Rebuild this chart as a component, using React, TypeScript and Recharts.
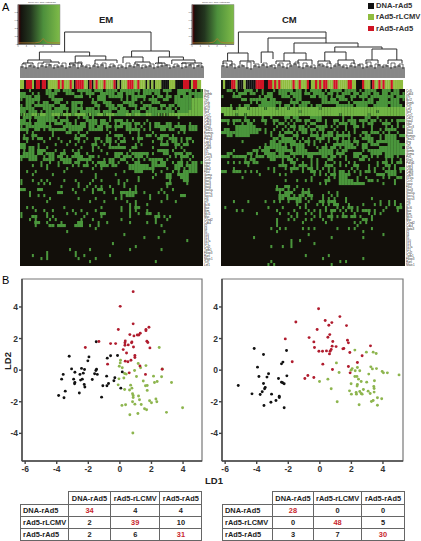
import React from "react";
import { ScatterChart, Scatter, XAxis, YAxis, ReferenceArea, LineChart, Line } from "recharts";

const SANS = '"Liberation Sans", Arial, sans-serif';

const groups = ["DNA-rAd5", "rAd5-rLCMV", "rAd5-rAd5"];
const emMatrix = [[34, 4, 4], [2, 39, 10], [2, 6, 31]];
const cmMatrix = [[28, 0, 0], [0, 48, 5], [3, 7, 30]];

const emBlack = [[-3.21,.88],[-1.96,.84],[-2.03,.59],[-.8,.76],[-.59,.91],[-.15,.93],[-1.5,1.8],[-3.06,.08],[-2.43,.11],[-2.24,.04],[-1.48,.06],[-1.52,-.02],[-2.85,-.13],[-2.32,-.19],[-2.53,-.27],[-3.59,-.27],[-3.69,-.57],[-2.93,-.57],[-2.85,-.78],[-2.87,-.86],[-2.38,-.57],[-2.49,-.63],[-2.26,-.91],[-2.22,-1.07],[-1.6,-.23],[-1.43,-.27],[-1.75,-.59],[-.84,-.38],[-.32,-.48],[-.38,-.67],[-.72,-.84],[-.82,-.99],[-1.08,-.99],[.15,-.11],[.06,-1.14],[-3.46,-1.33],[-3.88,-1.6],[-3.54,-1.75],[-2.57,-1.45],[-1.16,-1.71]];
const emGreen = [[2.49,1.43],[.04,.63],[.02,.46],[1.16,.42],[-.04,.25],[.15,.15],[1.65,.29],[1.31,.15],[.93,-.02],[2.68,.08],[.3,-.21],[.4,-.25],[1.05,-.4],[-.06,-.55],[.25,-.5],[2.13,-.38],[2.64,-.42],[1.48,-.69],[2.19,-.78],[2.36,-.72],[3.27,-.78],[-.11,-.93],[.68,-.95],[1.62,-.99],[1.73,-.97],[.3,-1.22],[.61,-1.26],[.76,-1.14],[1.73,-1.28],[.8,-1.49],[.84,-1.6],[.84,-1.73],[1.18,-1.64],[1.24,-1.87],[1.88,-1.94],[2,-2.06],[2.28,-1.83],[2.34,-2],[.8,-2],[.95,-2.15],[1.35,-2.17],[.13,-2.23],[.36,-2.19],[1.56,-2.44],[1.69,-2.51],[3.97,-2.38],[2.95,-2.67],[.63,-2.82],[1.14,-2.74],[.82,-3.98]];
const emRed = [[.84,4.97],[.02,4.04],[.84,2.93],[1.84,2.72],[1.65,2.57],[1.65,2.5],[-.1,2.57],[.63,2.25],[.89,2.17],[1.1,2.23],[1.2,2.23],[1.29,2.34],[-1.33,1.81],[-.59,1.68],[-.27,1.68],[.34,1.85],[.32,1.73],[.32,1.58],[.53,1.6],[.76,1.79],[.74,1.73],[.86,1.47],[1.71,1.83],[1.77,1.75],[1.9,1.41],[-2.19,1.43],[.21,1.3],[.42,1.09],[.95,.93],[.95,.8],[.7,.63],[.34,.57],[.51,.53],[-.78,.38],[1.27,.27],[1.62,-.27],[.59,-.17],[2.68,.06]];

const cmBlack = [[-4.16,1.37],[-3.57,.99],[-2.11,1.24],[-2.34,.51],[-2.43,.4],[-3.95,.19],[-3.25,-.23],[-3.86,-.4],[-3.35,-.44],[-2.09,-.36],[-2.62,-.53],[-2.43,-.76],[-2.36,-.8],[-2.26,-.86],[-5.17,-.97],[-3.57,-.84],[-3.46,-1.1],[-3.5,-1.18],[-3.65,-1.37],[-4.3,-1.5],[-3.78,-1.54],[-3.06,-1.52],[-2.57,-1.65],[-2.57,-1.73],[-2.78,-1.92],[-3.1,-2.03],[-3.54,-2.24],[-2.26,-2.38]];
const cmGreen = [[2.22,1.27],[2.95,1.14],[3.38,1.14],[3.57,1.05],[1.05,.46],[1.22,-.15],[2.38,.17],[3.23,.21],[2.05,.1],[1.98,0],[2.24,-.04],[2.53,-.04],[3.33,.08],[3.59,.1],[3.95,-.08],[4.03,-.17],[4.28,-.17],[5.02,-.3],[3.1,-.25],[2.22,-.4],[2.35,-.4],[2.45,-.57],[-.02,-.72],[.51,-.57],[.72,-1.18],[2.62,-.72],[2.97,-.76],[3.46,-.67],[1.98,-.86],[2.38,-.91],[2.36,-1.01],[3.42,-1.03],[3.44,-1.16],[2.76,-1.22],[3.06,-1.33],[3.19,-1.48],[3.44,-1.39],[1.88,-1.31],[2,-1.52],[2.32,-1.52],[2.3,-1.41],[2.53,-1.35],[2.62,-1.48],[2.68,-1.52],[3.65,-1.75],[3.92,-1.81],[3.38,-1.92],[3.27,-1.98],[1.1,-2],[2.49,-2.19],[3.65,-2.22]];
const cmRed = [[-.08,3.89],[1.27,3.39],[.34,3.14],[.76,3.01],[.57,2.84],[1.69,2.82],[-1.52,3.05],[-.17,2.57],[.63,2.25],[.51,2.08],[-.68,2.06],[-2.19,1.98],[-.38,1.79],[.82,1.81],[1.75,1.89],[1.81,1.73],[3.21,1.54],[-.34,1.43],[.78,1.52],[1.03,1.49],[1.46,1.35],[1.52,1.37],[.72,1.31],[-.06,1.2],[.17,1.2],[.42,1.22],[.65,1.2],[.61,1.03],[1.9,1.12],[2.68,.91],[-1.75,.53],[.19,.38],[2.38,.48],[1.81,.23],[.8,.04],[1.92,-.17],[-.76,-.34],[-.38,-.46],[-.95,-.53]];

const emBar = ["ggkrrrgkrrkrrkgggggrgrgggrgkrrrrggkrkgrgggrgg" + "ggrkgkgggrrrggrgggkgkgkgggkkkkgggkkkkrrrkgrrgg"];
const cmBar = ["kgkkkrrgkkkgkkkkkrrrrkkrrgrgrggggggrggrgggrkg" + "grgrgrrgggrrgggggrrggkkkrgggkrggrgrgggrggggg"];

const emHeat = [
"...a.....aa.aa.aaa..aaaaa.aaa.aaaa.aaaaaaa.aaaaaa.aaa..aaaaa.a.a",
"aa..a.a..aaaa...aaa..a.aaa..aaaaa.aa.aaa.a.aaa.aa..a...aaa.aaaaa",
"aaaa.aa...aa.......aaa..a..aaa.aaaaa.a.aaaaa..a.aa.aa.aa.aaa.aaa",
"a.aaaaa....aaaa..........a.aaa.....a.a.aa..a.aaa..aa..aaaaaabbbb",
"..aaa.a.aa..aa..a.aaaa...aa..aaa....aaaa..a...aaa.....aaaaaabbbb",
"a.aa.aaaaaaa..aa..aa.a....aa..aaa.aa..aaa..aaa...aa.aa.aaaaabbbb",
"aaaaa...aaa.aaaaa.aaaa.aaa.a...aaa.aa...a.aa.aaa.a.aa.a.aaaabbbb",
"aa.aaa.a.aaaaaa.a.aa.aaaaaaa.aaa..aaaa.aaa..aaaaaaaaaa.aaaabbbbb",
"abaabbabbaabbbabbbabbbbabaabbabbbaaaabbabbaabbaabababbbbbbbbbbbb",
".aaa.aaaaaaa.a..a...a.aa.a.....a.......................a........",
"aa.a..aaaaaaa.aaa..a...aaaa.aa.a.aaa.a.a....a...................",
"aaaa.aaaa.a.aaa.aa.a.aa.aaa.aaa..a.aaaa.aa.a.a.aa..aa..a...a....",
"a.aaaaaaaaa....aaaaaaaa.aa.aa.aa.aaa.aa.a.a..a.aaaaaa.aaaa.aaa..",
"aaa..aa.a.aaaaaa.aaaaa..aaaaa.a..a...aaaaa.a.a...aa.aa..aa.aaa..",
"..a.a......a....aa..a..a.......a......a..a....a........a.a......",
".a..aa.....a.......a.aa.......a..aaa.....a..aa.a.aaa.a..........",
".aa.a.aa..a..a.....aa..a..aa..aa..a.a..a.aa.....aa..aaa.a.aa....",
"..a.....a.....a..a..a.a...a.a.aa.a.aa....a....a..a.a.aa.a.a.a...",
"aa....a.....a...a..a.....aa..a.a..a.....a.a......aaa..aa.aa.....",
"aa.aa.a..a...........a...a.a...aaaaaa..aa.....a.......a.a.......",
".a.aa.aaa...a..a..a.a....a..a.........a.........aaaa.a...a......",
".aaaa.aa.aaa..aa...aa..a......a..aaa.a.aaaaaa.a...aa..aaa.aa....",
"aaaaaa..a.aa.aa.a.aaaa..aa.a.....aa.aaa.aaa.a.......a.a.aaa.a...",
"a..aaa..aaaa..aaaa..aaaaa....a.aa..aa..a.a.a.aaaaa.a....a..a....",
".......a..a..a.aaa.aa..a.a.aaa.aa.a..a..aa....aa.aa..a.aa.a.aa.a",
"....a..a.a...a....a.a.aa..a.aaa.aa....aaaaaaa.aaaaa...aaa.aaaa..",
".........a......a........a..a.........aaaaaaaaa....a..aa.a.aaa..",
"..a..a.........a.....a..............a...aaa...a..a...a.a.aaaaa..",
"....a......a..............a......a.............a...aa..aaaa.....",
"..........................a..............a....a....aa...aaa.....",
"a...a..a.a.....a...a.....a..a.....a..a...a..........a....aa.....",
"a.....a.a.a.........a...a.........a.a..............aa.....a.....",
"..............a.....a..a..a.a..a....a...a..........a............",
"aa....aa..........a...a..a.aa...a.....a.a........a...a..........",
"...a.........aa....a.....a...a..a..aaaaaa..a....a.a.............",
"...a..a.a..........................a.aaa.....a.....a....aa......",
"..........a.........a.....a......a.a.........a.....a............",
".........a..............a....a.......a..a........a....a.........",
"......................................a.a...a...................",
"..a.a..........a............a......a..a.aa......................",
".....a..a..a......a..a....a........a..a.a...a...................",
"a........a......a..a...a....aa........a..a..aa..a...............",
"a...aa...a.a..........a.....a.........a........aa.a.a...........",
"...a.a....a.a........a...a.........a...........a...a............",
".....aa..a....a.....aa.....a..a.......a.....a..a................",
".....a....aa.aaa...aaa..a..a.....................a..............",
"..........................a.....................................",
"................a.................................a.............",
"....................................a...........................",
"...........................................a....a...............",
"..........................................................a.....",
"................................a...............................",
"........................................a.......................",
".................a......a.............a..........a..............",
".........a.........a............................................",
"....a....a.........a..a........a................................",
".......a.a..........a.....a.....................................",
"........................a......................a.................",
"................................................................",
];

const cmHeat = [
"..aa.a..aaa.a.a...a.aaaaa.aa.a.aaaa.a.aaaa.aaaa.a.aaaa..aaa.aa..",
"....a.aaa.aa..a.aa..aaa.aaaa.aa.aaaa.aa.a.aaa.aa.aaa.aa.aa.aaa.a",
"a...aaa......a.aaa...aaa.aaa...aa.aaa.a.aaa..aa.aaa.aaaaaaaa.aaa",
".......aa.aaaaaa.aa.....a.aa.......aa.aa.aaa.a...a.aa..aaa.aaa.a",
"..........a.a.aaaaaaa...aaa.aaa....aaaaaa...a.aaaaaaa.aaaaaaaa..",
"...a..a.aa...aaaaaa.a.aa.a.aaa.a.aa.....aaaaaa.aaaa..aaaaa.aaaa.",
"bbbb.abbbabbbbbabbbabbbabbbbbbbbbbabbbbbbbbbbbbbbbbbbbbbbbbbbbbb",
"bbbbbbbbbbbbbbbbbbbbbbbbbbbabbbbbbbbbbbbbbbbbbbbbbbbbbabbbbbbbbb",
".bbbbabbabbbbbbbbbbbbbbbbbbbbbbbbbbbbbbbbabbbbbbbbbabbbbbbbbbbbb",
"........a.....a..a....aa.aa....aaaa.......a..a....aa..a.........",
"aaa.aaa.aa.a..aa..aa..a.a.aa.aa..aa.a..aa.a.aaa.aaa.aa.a.a.a.aaa",
"..a.a..a.aa....a..a.aa.a.a...a.aa...a..a.aaa.aa..a.aa...aaa..a..",
".....aaaaaaa.......a..a.aa.aa.a..aaaa.a.a..a..aa.a..a....a.a.a.a",
".aa..aaaaaaaaa.a..a..a.a.a.aaa.aa.aa...a...a..a.....a..a.aaaa..",
"aaaaaaaaaaaaa..a.a..a.aaa.a.aa.a.a.a.aa.a.a.a.a..aa.aaa.a.a..a.",
"..aa.aaaaa.......a..aa...aa....aaa.aaaa.aaaaa...a.aa...a.aaaa.aa",
"..................aa.aaaa.a.a.a..aaa.a.aa.a.a.a..aaaa..a.aaaa...",
".......a.........aa.aaaaaa.a.aa.a.a..a..a.aaa.aa...aa.aaaaaaaa..",
"...............a.aaaa.a.aaaaa.a.a...a..aaaaaaa.a.aa.aaa...aaaaaa",
".............a.aaaaaaaa.a.aaa....a.aa.aa.a.aaaa..aa....aaaaaaaa.",
"....a......aa.aaa..aaaaaa.aaaa....aaaaa.a.aa.....a.aaaaaaaaaaaaa",
"..aa.....aa.a..aaaa.aa..aaaaaaaaaaaaaaa.aaa...aaa...aaaa.aaaaaaa",
"aaa.aaaaa.a.aaa.aaaaaaaa.a..a.aa...aa.aa.a.a..aa.aa.a.a..aaa.a..",
"........a.aa.....aa..a.aa.a....a.a...aa....a....aa.a.....a.a..a.",
"..a.a.a.aa.aa........a..aa..a..a.a..a..a.a..a.a.......a.aa.a.aa.",
".........a..........aaa..a.aaa.a.a..aaa..a.a..aa...a..a..aa.a..",
"....a...........a.a...a.aaa.a.aa.a.a.a.a.....a.a...a.a..a.a.a.aaa",
"aa..aaa.a.a.a.....a.....a...a..aa.a..a.a.aa.a.a.a.aa.a...aaaa.a.",
".............a......a.a.........a.a.a.aa.aaaa...a.....aaa.aaa..",
".......a.......................a.....a.a.aaa...a..a.....a.a..aa.",
"......................a...a..a.a....aa...aaaaa.a...aa.a.....a..",
"..................................a.a....aaaaaaaaa......a...a..",
"...................a..aa..a......................................",
"...................aaa.a.a..a.a..................................",
"....................a.aaa...aaa......a..a........................",
"....................aaaa.a.aa.aa...a..a.a........................",
"....................aa.aaaaa.a.a...a.a.a...a........a............",
"....a....a.....a..a.a..a..aa..a...aa.aaa...a...........a..a.a....",
"..........................a..a...a.a.a.aa...a....a...a.a..a.a.a..",
".a..............a....a.....a.a......a...a.a.aa.a.........a...aa..",
".....a.a...........a.....a....a.a.a.a.aa.a.a.a.a.aaa.a..a....a..",
"............a.......a..a..a..a.a..a...a...a...a....a.a.a.........",
"........................a.a.....a.a..aa.a.aa.aa.a...a............",
"...................a...a.a...a.a...a..a..........aa.a............",
"...................a........a.......a.........a.a.a..............",
"...................a...........................a.................",
".................a..a.a.....a.a.a.......a...a.a.....a............",
"...................a.............................a...............",
"..............................a.........................a........",
"...........a..........................a..........a...............",
"........................a..a.....................................",
"........................a.......a................................",
".................a...a..a........................................",
"................................................................",
"................................................................",
".............................a.......a...........................",
"...................................a.............a...............",
".................a.......................a.a......................",
"................a.a...................a..........................",
];

const emGenes = ["Ifng","Gzmb","Prf1","Tnf","Il2rb","Ccl5","Bcl2","Sell","Ccr7","Cd27","Cd28","Cd44","Klrg1","Tbx21","Eomes","Gata3","Pdcd1","Lag3","Ctla4","Cd69","Il7r","Il15ra","Cxcr3","Ccr5","Itgae","Itgal","Itga4","Fasl","Gzma","Gzmk","Stat1","Stat3","Stat4","Stat5a","Socs1","Socs3","Irf4","Irf7","Bcl6","Bax","Bim","Mcl1","Myc","Ccnd2","Cdk4","Il2","Il4","Il5","Il10","Il13","Il17a","Il21","Csf2","Tgfb1","Foxp3","Rorc","Nfatc1","Tcf7","Lef1"];
const cmGenes = ["Ccl5","Cd44","Il7r","Bcl2","Gzmk","Tcf7","Lef1","Sell","Ccr7","Cd27","Itga4","Itgal","Cxcr3","Stat1","Stat4","Eomes","Tbx21","Ifng","Tnf","Il2rb","Gzmb","Gzma","Prf1","Klrg1","Pdcd1","Lag3","Ctla4","Cd69","Cd28","Il15ra","Ccr5","Itgae","Fasl","Stat3","Stat5a","Socs1","Socs3","Irf4","Irf7","Bcl6","Bax","Bim","Mcl1","Myc","Ccnd2","Cdk4","Gata3","Il2","Il4","Il5","Il10","Il13","Il17a","Il21","Csf2","Tgfb1","Foxp3","Rorc","Nfatc1"];

const emPairHeights = [11,10,12,11,10,12,11,13,10,11,12,10,11,13,10,12,11,10,12,11,13,10,11,12,10,11,10,12,11,13,10,11,12,10,11,12,13,10,11,12,10,11,13,10,12,11];
const cmPairHeights = [12,11,13,10,11,12,10,9,12,11,13,11,12,10,13,11,10,12,14,11,10,12,11,10,13,12,11,10,12,13,11,10,12,11,13,10,11,12,10,13,11,12,10,11,12,10];
const emLevel2 = [14,13,15,14,13,15,14,16,13,14,15,14,13,15,14,13,14,15,13,14,15,14,13];
const cmLevel2 = [15,14,13,16,14,15,13,15,14,16,15,13,14,15,14,13,15,14,16,14,13,15,14];

const emBrackets = [
  [21.8,26,65,27,46],[9.2,18,34.3,22,26],[55.3,21,74.2,21,27],[3.4,15,15,16,18],[27.1,15,42.4,18,22],
  [24.3,13,30.2,13,15],[37,14,48,15,18],[51,15,61,16,21],[57,14,64.5,14,16],[68.7,15,81.2,18,21],
  [75.4,14,87,15,18],[67.3,14,72,14,15],[80.4,14,90.4,14,15],[1,14,6,14,15],[11,14,19,14,16],
];
const cmBrackets = [
  [8.2,25,52,40,46],[2.8,17,13,17,25],[23,26,52,35,40],[19.6,15,25.5,19,26],[36,25,68,31,35],[31,17,42,18,25],
  [56.4,26,80,29,31],[51.4,17,62,18,26],[75,18,87.4,18,29],[0.5,14,5,14,17],[9,14,16,14,17],[27,14,34,14,17],
  [38,14,45,14,18],[48,14,54,14,17],[58,14,66,14,18],[72,14,78,15,18],[83,14,90,15,18],
];

const histX = [0,4,5.2,6,6.8,8,10];
const histY = [4,4,6,15,6,4,4];
const xTicks = [-6,-4,-2,0,2,4];
const yTicks = [-4,-2,0,2,4];

const BLACK = "#120f0a";
const GREEN = "#4a963c";
const BRIGHT = "#6fb544";
const KEY_G = "#8fbc3f";
const KEY_R = "#cf1424";

function toPts(a: number[][]) { return a.map(([x, y]) => ({ x, y })); }

function Heat({ rows, colors, cols, left, top, width, height, labels, bg, thin }: any) {
  const n = rows.length;
  const cw = width / cols, ch = height / n;
  const series = Object.keys(colors).map((k) => {
    const pts: any[] = [];
    rows.forEach((r: string, ry: number) => {
      for (let i = 0; i < Math.min(r.length, cols); i++) {
        if (r[i] === k) {
          const alone = r[i - 1] !== r[i] && r[i + 1] !== r[i];
          pts.push({ x: i + 0.5, y: ry + 0.5, alone });
        }
      }
    });
    return { k, pts };
  });
  const extra = labels ? 16 : 0;
  const ticks = rows.map((_: string, i: number) => i + 0.5);
  return (
    <div style={{ position: "absolute", left, top }}>
      <ScatterChart width={width + extra} height={height} margin={{ top: 0, right: 0, bottom: 0, left: 0 }}>
        <XAxis type="number" dataKey="x" domain={[0, cols]} hide />
        <YAxis type="number" dataKey="y" domain={[0, n]} reversed orientation="right" width={extra} hide={!labels}
          ticks={ticks} interval={0} tickLine={false} axisLine={false} tickSize={0} tickMargin={1}
          tickFormatter={(v: number) => (labels ? labels[Math.floor(v)] || "" : "")}
          tick={{ fontSize: 3, fill: "#333", fontFamily: SANS }} />
        {bg ? <ReferenceArea x1={0} x2={cols} y1={0} y2={n} fill={bg} fillOpacity={1} stroke="none" /> : null}
        {series.map((s) => (
          <Scatter key={s.k} data={s.pts} isAnimationActive={false}
            shape={(p: any) => {
              const w = thin && p.payload.alone ? 2 : cw + 0.2;
              return <rect x={p.cx - w / 2} y={p.cy - ch / 2} width={w} height={ch + 0.1} fill={colors[s.k]} />;
            }} />
        ))}
      </ScatterChart>
    </div>
  );
}

function bracket(b: number[]) {
  return [{ x: b[0], y: b[1] }, { x: b[0], y: b[4] }, { x: b[2], y: b[4] }, { x: b[2], y: b[3] }];
}

function Dendro({ left, pairs, level2, brackets }: any) {
  const pairLines = pairs.map((h: number, i: number) => [2 * i, 0, 2 * i + 1, 0, h]);
  const level2Lines = level2.map((h: number, i: number) => [4 * i + 0.5, pairs[2 * i], 4 * i + 2.5, pairs[2 * i + 1], h]);
  const line = (b: number[], i: string, stroke: string, w: number) => (
    <Scatter key={i} data={bracket(b)} isAnimationActive={false} line={{ stroke, strokeWidth: w }} shape={() => <g />} />
  );
  return (
    <div style={{ position: "absolute", left, top: 28 }}>
      <ScatterChart width={184} height={50} margin={{ top: 0, right: 0, bottom: 0, left: 0 }}>
        <XAxis type="number" dataKey="x" domain={[-0.5, 91.5]} hide />
        <YAxis type="number" dataKey="y" domain={[0, 50]} hide />
        {pairLines.map((b: number[], i: number) => line(b, "p" + i, "#555", 1.4))}
        {level2Lines.map((b: number[], i: number) => line(b, "l" + i, "#444", 0.8))}
        {brackets.map((b: number[], i: number) => line(b, "b" + i, "#2e2e2e", 1))}
      </ScatterChart>
    </div>
  );
}

function ColorKey({ left, id }: any) {
  const data = histX.map((x, i) => ({ x, y: histY[i] }));
  return (
    <div style={{ position: "absolute", left, top: 1 }}>
      <div style={{ position: "absolute", left: 16, top: 0, fontSize: 2.5, color: "#444", fontFamily: SANS, whiteSpace: "nowrap" }}>Color Key and Histogram</div>
      <LineChart width={50} height={48} data={data} margin={{ top: 3.5, right: 2, bottom: 0, left: 0 }}>
        <defs>
          <linearGradient id={id} x1="0" y1="0" x2="1" y2="0">
            <stop offset="0" stopColor="#7a1414" />
            <stop offset="0.05" stopColor="#2a0808" />
            <stop offset="0.07" stopColor="#14130e" />
            <stop offset="0.3" stopColor="#23361f" />
            <stop offset="0.6" stopColor="#4d8f3c" />
            <stop offset="1" stopColor="#7fbb48" />
          </linearGradient>
        </defs>
        <XAxis type="number" dataKey="x" domain={[0, 10]} ticks={[0, 2, 4, 6, 8]} height={4.5} tickSize={1} tickMargin={0} interval={0}
          tick={{ fontSize: 2.5, fill: "#555" }} stroke="#777" />
        <YAxis type="number" domain={[0, 100]} ticks={[0, 20, 40, 60, 80]} width={6} tickSize={1} tickMargin={0} interval={0}
          tick={{ fontSize: 2.5, fill: "#555" }} stroke="#777" />
        <ReferenceArea x1={0} x2={10} y1={0} y2={100} fill={`url(#${id})`} fillOpacity={1} stroke="#888" strokeWidth={0.5} />
        <Line dataKey="y" stroke="#b0782c" strokeWidth={0.8} dot={false} isAnimationActive={false} />
      </LineChart>
    </div>
  );
}

function Dot({ cx, cy, fill }: any) {
  return <circle cx={cx} cy={cy} r={1.45} fill={fill} />;
}

function LD({ left, width, right, xMax, black, green, red, yLabel }: any) {
  const axisTick = { fontSize: 8.5, fontWeight: 700, fill: "#333", fontFamily: SANS };
  return (
    <div style={{ position: "absolute", left, top: 270 }}>
      <ScatterChart width={width} height={215} margin={{ top: 9, right, bottom: 0, left: 0 }}>
        <XAxis type="number" dataKey="x" domain={[-6.2, xMax]} ticks={xTicks} interval={0} height={24} tickSize={3} tickMargin={2}
          stroke="#444" strokeWidth={1.4} tick={axisTick} />
        <YAxis type="number" dataKey="y" domain={[-5.75, 5.77]} ticks={yTicks} interval={0} width={22} tickSize={3} tickMargin={1}
          stroke="#444" strokeWidth={1.4} tick={axisTick}
          label={yLabel ? { value: yLabel, angle: -90, position: "insideLeft", offset: 8, style: { fontSize: 9.5, fontWeight: 700, fill: "#222", fontFamily: SANS } } : undefined} />
        <ReferenceArea x1={-6.2} x2={xMax} y1={-5.75} y2={5.77} fill="none" stroke="#777" strokeWidth={1.2} />
        <Scatter data={toPts(green)} fill="#8db54e" isAnimationActive={false} shape={<Dot />} />
        <Scatter data={toPts(black)} fill="#111" isAnimationActive={false} shape={<Dot />} />
        <Scatter data={toPts(red)} fill="#b01c2e" isAnimationActive={false} shape={<Dot />} />
      </ScatterChart>
    </div>
  );
}

function ConfTable({ left, top, widths, matrix }: any) {
  const total = widths.reduce((a: number, b: number) => a + b, 0);
  const cell: any = { border: "1px solid #666", padding: 0, textAlign: "center", overflow: "hidden", whiteSpace: "nowrap" };
  return (
    <table style={{ position: "absolute", left, top, width: total, tableLayout: "fixed", borderCollapse: "collapse", fontFamily: SANS, fontSize: 7.4, fontWeight: 700, color: "#222" }}>
      <colgroup>{widths.map((w: number, i: number) => <col key={i} style={{ width: w }} />)}</colgroup>
      <tbody>
        <tr style={{ height: 13 }}>
          <td style={{ padding: 0 }} />
          {groups.map((g) => <td key={g} style={cell}>{g}</td>)}
        </tr>
        {groups.map((g, r) => (
          <tr key={g} style={{ height: 12 }}>
            <td style={{ ...cell, textAlign: "left", paddingLeft: 2 }}>{g}</td>
            {matrix[r].map((v: number, c: number) => (
              <td key={c} style={{ ...cell, color: r === c ? "#c8262c" : "#222" }}>{v}</td>
            ))}
          </tr>
        ))}
      </tbody>
    </table>
  );
}

function abs(left: number, top: number, extra: any = {}) {
  return { position: "absolute", left, top, fontFamily: SANS, lineHeight: 1, ...extra } as any;
}

export default function App() {
  const legendColors = ["#111", KEY_G, KEY_R];
  const legendTops = [3, 14, 25.5];
  return (
    <div style={{ position: "absolute", left: 0, top: 0, width: 421, height: 541, background: "#fff", overflow: "hidden" }}>
      <div style={abs(2, 2, { fontSize: 11 })}>A</div>
      <div style={abs(2, 275, { fontSize: 11 })}>B</div>
      <div style={abs(99, 15, { fontSize: 9.5, fontWeight: 700, color: "#222" })}>EM</div>
      <div style={abs(282, 15, { fontSize: 9.5, fontWeight: 700, color: "#222" })}>CM</div>

      {groups.map((g, i) => (
        <React.Fragment key={g}>
          <div style={{ position: "absolute", left: 368, top: legendTops[i], width: 5.5, height: 5.5, background: legendColors[i] }} />
          <div style={abs(376, legendTops[i] - 1, { fontSize: 7.6, fontWeight: 700, color: "#333", whiteSpace: "nowrap" })}>{g}</div>
        </React.Fragment>
      ))}

      <ColorKey left={12} id="keyA" />
      <ColorKey left={186} id="keyB" />

      <Dendro left={20} pairs={emPairHeights} level2={emLevel2} brackets={emBrackets} />
      <Dendro left={221} pairs={cmPairHeights} level2={cmLevel2} brackets={cmBrackets} />

      <Heat rows={emBar} colors={{ k: "#111", g: KEY_G, r: KEY_R }} cols={92} left={20} top={80} width={183} height={9} />
      <Heat rows={cmBar} colors={{ k: "#111", g: KEY_G, r: KEY_R }} cols={90} left={221} top={80} width={184} height={9} />

      <Heat rows={emHeat} colors={{ a: GREEN, b: BRIGHT }} cols={64} left={20} top={89} width={183} height={177} labels={emGenes} bg={BLACK} thin />
      <Heat rows={cmHeat} colors={{ a: GREEN, b: BRIGHT }} cols={64} left={221} top={89} width={184} height={177} labels={cmGenes} bg={BLACK} thin />

      <LD left={0} width={205} right={3} xMax={5.2} black={emBlack} green={emGreen} red={emRed} yLabel="LD2" />
      <LD left={200} width={205} right={2} xMax={5.27} black={cmBlack} green={cmGreen} red={cmRed} />
      <div style={abs(205, 476, { fontSize: 9.5, fontWeight: 700, color: "#222" })}>LD1</div>

      <ConfTable left={20} top={491} widths={[48, 42, 49.4, 42]} matrix={emMatrix} />
      <ConfTable left={222} top={491} widths={[49.7, 41.6, 47.7, 43]} matrix={cmMatrix} />
    </div>
  );
}
